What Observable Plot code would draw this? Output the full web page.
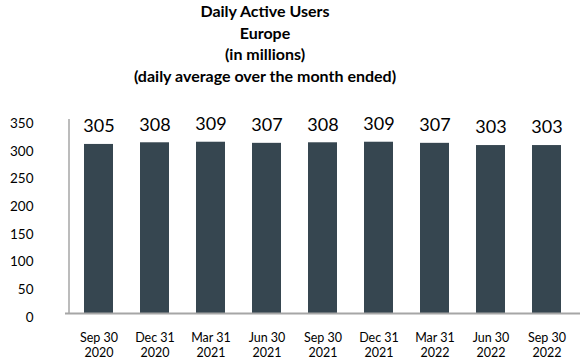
<!DOCTYPE html>
<html>
<head>
<meta charset="utf-8">
<script src="https://cdn.jsdelivr.net/npm/d3@7"></script>
<script src="https://cdn.jsdelivr.net/npm/@observablehq/plot@0.6"></script>
<style>
  body { margin: 0; background: #fff; font-family: Lato, "Open Sans", sans-serif; }
  #title { width: 530px; text-align: center; font-weight: bold; font-size: 16px; line-height: 21.7px; color: #000; height: 88px; }
  #chart svg { display: block; }
</style>
</head>
<body>
<div id="title">Daily Active Users<br>Europe<br>(in millions)<br>(daily average over the month ended)</div>
<div id="chart"></div>
<script>
const categories = ["Sep 30\n2020", "Dec 31\n2020", "Mar 31\n2021", "Jun 30\n2021", "Sep 30\n2021", "Dec 31\n2021", "Mar 31\n2022", "Jun 30\n2022", "Sep 30\n2022"];
const values = [305, 308, 309, 307, 308, 309, 307, 303, 303];
const yTicks = [0, 50, 100, 150, 200, 250, 300, 350];

const data = categories.map((c, i) => ({category: c, value: values[i]}));

const chart = Plot.plot({
  width: 580,
  height: 272,
  marginLeft: 65,
  marginRight: 0,
  marginTop: 31,
  marginBottom: 47,
  style: {fontFamily: "Lato, 'Open Sans', sans-serif", color: "#000", background: "#fff"},
  x: {type: "band", domain: categories, paddingInner: 0.474, paddingOuter: 0.263},
  y: {domain: [0, 350]},
  marks: [
    Plot.barY(data, {x: "category", y: "value", fill: "#364650"}),
    Plot.ruleY([0], {stroke: "#a6a6a6", strokeWidth: 2}),
    Plot.ruleX([categories[0]], {x: d => d, y1: 0, y2: 350, dx: -30, stroke: "#a6a6a6", strokeWidth: 1.5}),
    Plot.text(data, {x: "category", y: "value", text: d => String(d.value), dy: -18, fontSize: 18, fill: "#000"}),
    Plot.axisY({ticks: yTicks, tickSize: 0, tickPadding: 32, dy: 4, fontSize: 13.5, label: null, fill: "#000"}),
    Plot.axisX({tickSize: 0, tickPadding: 18, fontSize: 12.5, lineHeight: 1.2, label: null, fill: "#000", lineAnchor: "top"})
  ]
});
document.getElementById("chart").appendChild(chart);
</script>
</body>
</html>
